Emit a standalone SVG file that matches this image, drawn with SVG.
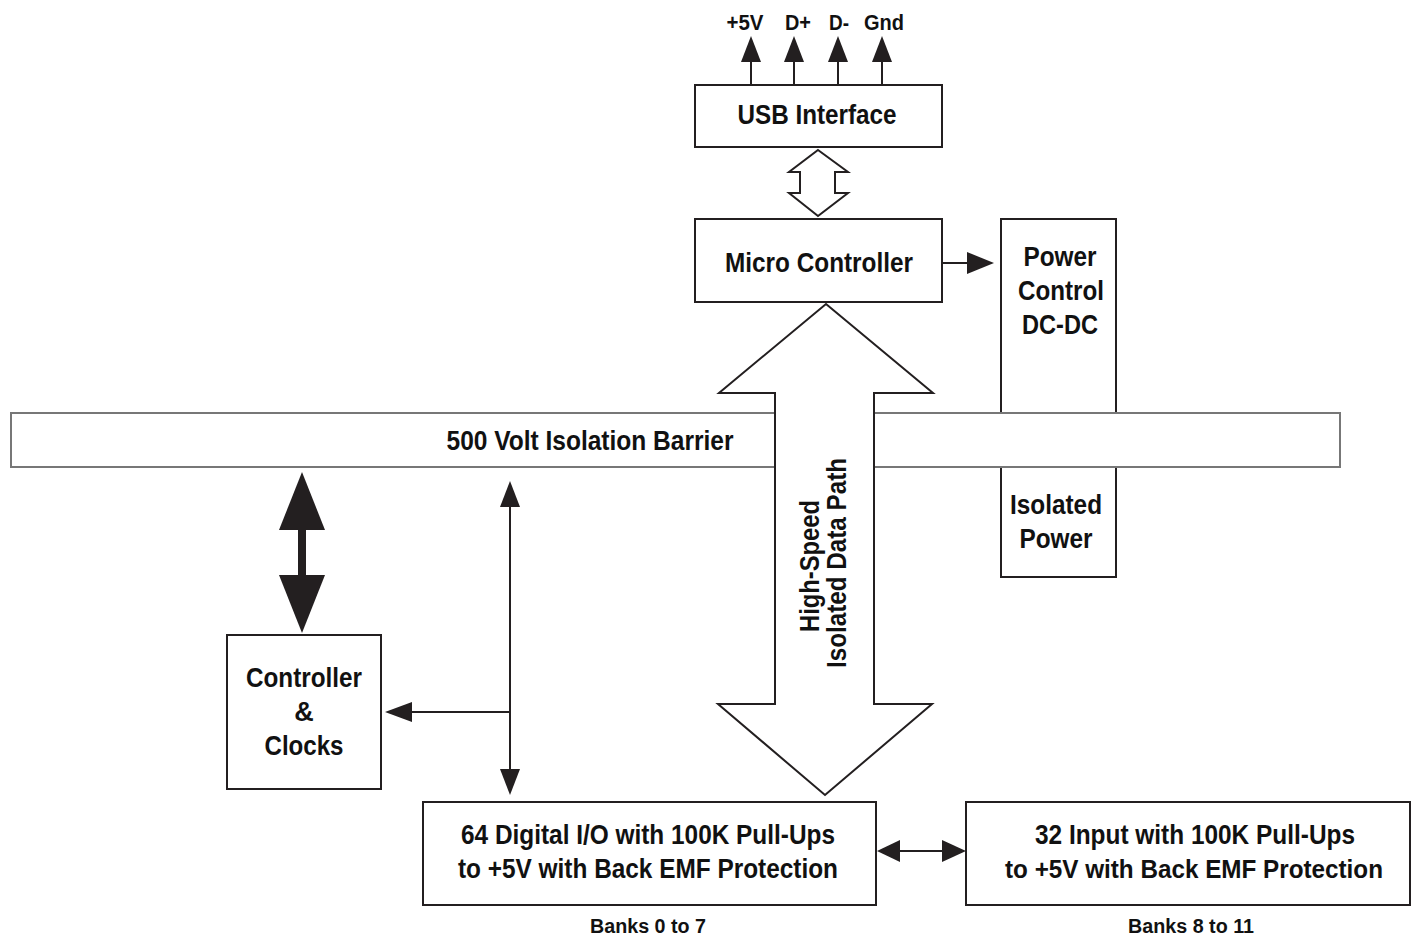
<svg xmlns="http://www.w3.org/2000/svg" width="1411" height="936" viewBox="0 0 1411 936">
<style>
.box{fill:#fff;stroke:#231f20;stroke-width:2}
.bar{fill:#fff;stroke:#777;stroke-width:2}
.ln{fill:none;stroke:#231f20;stroke-width:2}
.hol{fill:#fff;stroke:#231f20;stroke-width:2;stroke-linejoin:miter}
.hd{fill:#231f20;stroke:none}
text{font-family:"Liberation Sans",Arial,sans-serif;font-weight:bold;fill:#111;text-anchor:middle}
.t{font-size:27px}
.t2{font-size:25.5px}
.s{font-size:22px}
.b{font-size:20px}
</style>
<rect width="1411" height="936" fill="#fff"/>

<g id="power-control">
<rect class="box" x="1001" y="219" width="115" height="358"/>
<text class="t" x="1060" y="266" textLength="73" lengthAdjust="spacingAndGlyphs">Power</text>
<text class="t" x="1061" y="300" textLength="86" lengthAdjust="spacingAndGlyphs">Control</text>
<text class="t" x="1060" y="334" textLength="76" lengthAdjust="spacingAndGlyphs">DC-DC</text>
</g>

<g id="barrier">
<rect class="bar" x="11" y="413" width="1329" height="54"/>
<text class="t" x="590" y="450" textLength="287" lengthAdjust="spacingAndGlyphs">500 Volt Isolation Barrier</text>
</g>

<g id="isolated-power">
<text class="t" x="1056" y="514" textLength="92" lengthAdjust="spacingAndGlyphs">Isolated</text>
<text class="t" x="1056" y="548" textLength="73" lengthAdjust="spacingAndGlyphs">Power</text>
</g>

<g id="usb-interface">
<rect class="box" x="695" y="85" width="247" height="62"/>
<text class="t" x="817" y="124" textLength="159" lengthAdjust="spacingAndGlyphs">USB Interface</text>
</g>

<g id="micro-controller">
<rect class="box" x="695" y="219" width="247" height="83"/>
<text class="t" x="819" y="272" textLength="188" lengthAdjust="spacingAndGlyphs">Micro Controller</text>
</g>

<g id="controller-clocks">
<rect class="box" x="227" y="635" width="154" height="154"/>
<text class="t" x="304" y="687" textLength="116" lengthAdjust="spacingAndGlyphs">Controller</text>
<text class="t" x="304" y="721">&amp;</text>
<text class="t" x="304" y="755" textLength="79" lengthAdjust="spacingAndGlyphs">Clocks</text>
</g>

<g id="digital-io">
<rect class="box" x="423" y="802" width="453" height="103"/>
<text class="t" x="648" y="844" textLength="374" lengthAdjust="spacingAndGlyphs">64 Digital I/O with 100K Pull-Ups</text>
<text class="t" x="648" y="878" textLength="380" lengthAdjust="spacingAndGlyphs">to +5V with Back EMF Protection</text>
<text class="b" x="648" y="933" textLength="116" lengthAdjust="spacingAndGlyphs">Banks 0 to 7</text>
</g>

<g id="input-32">
<rect class="box" x="966" y="802" width="444" height="103"/>
<text class="t" x="1195" y="844" textLength="320" lengthAdjust="spacingAndGlyphs">32 Input with 100K Pull-Ups</text>
<text class="t2" x="1194" y="878" textLength="378" lengthAdjust="spacingAndGlyphs">to +5V with Back EMF Protection</text>
<text class="b" x="1191" y="933" textLength="126" lengthAdjust="spacingAndGlyphs">Banks 8 to 11</text>
</g>

<g id="connectors">
<line class="ln" x1="751" y1="85" x2="751" y2="60"/>
<polygon class="hd" points="751,36 741,62 761,62"/>
<line class="ln" x1="794" y1="85" x2="794" y2="60"/>
<polygon class="hd" points="794,36 784,62 804,62"/>
<line class="ln" x1="838" y1="85" x2="838" y2="60"/>
<polygon class="hd" points="838,36 828,62 848,62"/>
<line class="ln" x1="882" y1="85" x2="882" y2="60"/>
<polygon class="hd" points="882,36 872,62 892,62"/>
<text class="s" x="745" y="30" textLength="37" lengthAdjust="spacingAndGlyphs">+5V</text>
<text class="s" x="798" y="30" textLength="26" lengthAdjust="spacingAndGlyphs">D+</text>
<text class="s" x="839" y="30" textLength="20" lengthAdjust="spacingAndGlyphs">D-</text>
<text class="s" x="884" y="30" textLength="40" lengthAdjust="spacingAndGlyphs">Gnd</text>

<polygon class="hol" points="818,150 848,172 835,172 835,193 848,193 818,216 789,193 800,193 800,172 789,172"/>

<line class="ln" x1="942" y1="263" x2="970" y2="263"/>
<polygon class="hd" points="994,263 967,252 967,274"/>

<polygon class="hol" points="826,304 933,393 874,393 874,704 932,704 825,795 718,704 775,704 775,393 719,393"/>
<text class="t" transform="translate(819,566) rotate(-90)" textLength="132" lengthAdjust="spacingAndGlyphs">High-Speed</text>
<text class="t" transform="translate(846,563) rotate(-90)" textLength="210" lengthAdjust="spacingAndGlyphs">Isolated Data Path</text>

<rect class="hd" x="298" y="528" width="8" height="49"/>
<polygon class="hd" points="302,472 325,530 279,530"/>
<polygon class="hd" points="302,633 325,575 279,575"/>

<line class="ln" x1="510" y1="505" x2="510" y2="771"/>
<polygon class="hd" points="510,481 500,507 520,507"/>
<polygon class="hd" points="510,795 500,769 520,769"/>
<line class="ln" x1="510" y1="712" x2="410" y2="712"/>
<polygon class="hd" points="385,712 412,702 412,722"/>

<line class="ln" x1="898" y1="851" x2="944" y2="851"/>
<polygon class="hd" points="877,851 900,840 900,862"/>
<polygon class="hd" points="966,851 942,840 942,862"/>
</g>
</svg>
